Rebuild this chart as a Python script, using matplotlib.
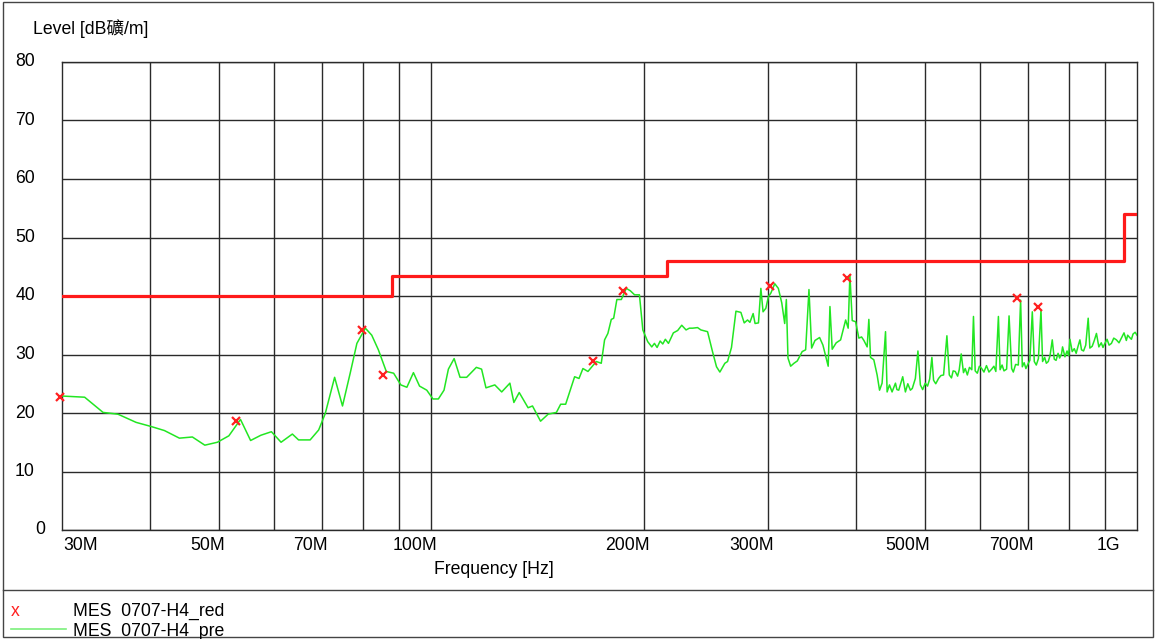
import matplotlib
matplotlib.use("Agg")
import matplotlib.pyplot as plt
from matplotlib.lines import Line2D
from matplotlib.patches import Rectangle

plt.rcParams['font.family'] = ['Liberation Sans', 'Noto Sans CJK SC']
plt.rcParams['font.size'] = 12.7

# ========== data (MHz / dB) ==========
# 30M ~ 440M
pre_freq_lo = [30.0, 32.3, 34.3, 36.0, 38.2, 40.1, 41.9, 44.0, 45.9, 47.8, 49.8, 51.7, 53.7, 55.5, 57.4,
               59.4, 61.3, 63.6, 64.9, 67.4, 69.3, 70.8, 73.0, 74.9, 76.8, 78.5, 80.7, 82.4, 84.2, 86.4,
               88.5, 90.6, 92.4, 94.4, 96.3, 98.6, 100.6, 102.4, 104.3, 105.8, 107.8, 109.9, 112.3, 115.9,
               117.9, 119.6, 123.1, 125.9, 129.3, 131.0, 133.3, 137.2, 139.2, 142.9, 146.5, 150.5, 152.6,
               155.1, 159.7, 162.0, 164.1, 166.8, 171.4, 174.2, 176.1, 178.0, 180.0, 181.4, 183.3, 186.0,
               189.0, 191.5, 194.2, 197.3, 199.5, 202.7, 205.4, 207.2, 209.0, 211.1, 212.9, 214.7, 216.9,
               220.4, 223.5, 226.5, 229.7, 232.2, 234.7, 238.5, 241.1, 246.4, 250.4, 253.7, 256.5, 260.7,
               263.0, 266.4, 270.3, 274.7, 277.7, 280.7, 282.9, 285.9, 287.7, 290.9, 293.2, 295.3, 298.0,
               300.5, 302.9, 306.8, 310.4, 313.9, 316.9, 318.6, 320.3, 323.1, 326.6, 330.2, 335.5, 339.3,
               343.0, 346.0, 349.8, 355.1, 359.0, 365.2, 367.3, 370.0, 374.9, 380.3, 386.6, 389.8, 392.0,
               395.0, 399.4, 403.6, 407.2, 410.3, 414.7, 417.0, 419.3, 423.8, 428.4, 431.8, 435.4]
pre_level_lo = [22.9, 22.7, 20.1, 19.8, 18.4, 17.7, 17.0, 15.7, 15.9, 14.5, 15.0, 16.1, 18.9, 15.3, 16.2,
                16.8, 15.0, 16.4, 15.4, 15.4, 17.1, 19.9, 26.1, 21.2, 26.8, 31.9, 34.5, 33.3, 30.8, 27.1,
                26.8, 24.8, 24.4, 26.9, 24.6, 23.9, 22.4, 22.4, 23.9, 27.5, 29.3, 26.1, 26.1, 27.8,
                27.5, 24.3, 24.8, 23.6, 25.1, 21.8, 23.5, 20.9, 21.2, 18.6, 19.8, 20.1, 21.5,
                21.5, 26.2, 25.9, 27.6, 27.1, 28.8, 28.5, 32.5, 33.6, 36.0, 36.2, 39.4, 39.4,
                41.3, 40.9, 40.2, 40.2, 34.2, 32.2, 31.3, 31.9, 31.2, 32.3, 31.8, 32.6, 31.9,
                33.7, 34.1, 35.0, 34.2, 34.5, 34.5, 34.6, 34.2, 33.9, 30.5, 27.9, 27.0, 28.5,
                28.8, 31.2, 37.4, 37.2, 35.4, 35.9, 35.5, 37.0, 35.3, 35.4, 41.3, 37.3, 37.9,
                39.9, 40.5, 42.1, 41.3, 38.8, 35.3, 39.4, 29.4, 28.0, 28.5, 28.9, 30.5, 30.8,
                41.1, 31.1, 32.4, 32.9, 31.6, 28.0, 38.2, 30.9, 32.0, 32.5, 35.9, 34.5, 43.6,
                35.8, 35.6, 32.8, 33.0, 32.4, 31.3, 36.0, 29.5, 29.1, 26.5, 23.9, 25.1]
# 440M ~ 1G
pre_freq_hi = [440.3, 442.6, 446.0, 449.8, 454.8, 457.0, 459.7, 465.7, 469.8, 473.5, 477.5, 480.5,
               485.3, 489.4, 493.3, 497.0, 501.2, 505.0, 508.5, 512.2, 515.0, 518.7, 523.4, 527.5,
               532.1, 537.9, 542.1, 546.0, 549.0, 552.7, 557.0, 560.0, 563.6, 567.8, 571.0, 575.0,
               579.0, 583.4, 586.6, 589.9, 594.0, 598.0, 602.6, 607.0, 612.0, 617.0, 622.5, 627.0,
               631.0, 636.3, 639.8, 644.0, 648.0, 653.6, 658.8, 664.4, 668.0, 673.0, 679.0, 684.1,
               687.9, 692.0, 696.0, 701.5, 705.0, 710.7, 715.3, 720.0, 725.0, 731.1, 734.9, 740.0,
               744.0, 748.7, 753.0, 758.5, 763.5, 768.0, 773.0, 777.0, 781.8, 784.4, 790.5, 796.0,
               800.0, 803.5, 809.5, 815.0, 820.0, 825.0, 830.1, 834.4, 840.0, 846.0, 852.8, 857.5,
               864.0, 870.0, 876.1, 883.0, 890.0, 895.0, 900.5, 907.0, 913.0, 920.0, 927.0, 935.1,
               943.0, 950.1, 958.5, 965.8, 970.0, 976.5, 982.0, 987.2, 994.0, 1000.0]
pre_level_hi = [33.9, 23.6, 24.8, 23.6, 25.1, 24.0, 23.9, 26.2, 23.6, 25.0, 23.9, 24.2,
                25.9, 30.6, 24.8, 24.0, 25.1, 24.6, 25.8, 29.5, 25.6, 25.0, 25.9, 26.4,
                26.5, 33.2, 26.5, 26.0, 27.2, 27.1, 26.3, 27.4, 30.1, 26.9, 27.6, 26.5,
                27.8, 27.4, 36.5, 27.2, 26.8, 28.0, 27.6, 27.0, 28.1, 27.0, 27.5, 28.0,
                27.1, 36.5, 27.4, 28.2, 27.2, 27.5, 36.6, 27.6, 27.0, 28.3, 28.2, 39.3,
                27.9, 28.6, 27.6, 28.5, 29.0, 37.3, 28.8, 28.2, 29.3, 37.6, 28.8, 29.5,
                28.5, 28.8, 29.8, 32.5, 29.2, 29.0, 30.2, 29.4, 30.1, 31.3, 29.6, 30.6,
                29.8, 32.6, 30.5, 31.0, 30.2, 31.4, 32.5, 30.8, 30.6, 31.6, 36.2, 31.1,
                31.4, 32.4, 33.6, 31.3, 32.0, 31.2, 31.9, 32.6, 31.6, 31.9, 32.8, 32.5,
                32.0, 32.8, 33.7, 32.4, 33.3, 32.9, 32.6, 33.5, 33.8, 33.3]

red_freq = [29.8, 53.0, 79.8, 85.6, 169.5, 186.9, 302.1, 387.7, 676.8, 724.7]
red_level = [22.7, 18.7, 34.2, 26.5, 28.9, 40.9, 41.7, 43.0, 39.6, 38.1]

limit_edges = [30, 88, 216, 960, 1000]
limit_levels = [40, 43.5, 46, 54, 54]

grid_freqs = [40, 50, 60, 70, 80, 90, 100, 200, 300, 400, 500, 600, 700, 800, 900]
y_ticks = [0, 10, 20, 30, 40, 50, 60, 70, 80]
x_labels = {30: "30M", 50: "50M", 70: "70M", 100: "100M", 200: "200M",
            300: "300M", 500: "500M", 700: "700M", 1000: "1G"}

pre_freq = pre_freq_lo + pre_freq_hi
pre_level = pre_level_lo + pre_level_hi

W, H = 1155, 639
fig = plt.figure(figsize=(W / 100, H / 100), dpi=100)
ax = fig.add_axes([62 / W, 109 / H, 1075 / W, 468 / H])

ax.set_xscale('log')
ax.set_xlim(30, 1000)
ax.set_ylim(0, 80)

# 网格
ax.set_xticks(grid_freqs)
ax.set_xticks([], minor=True)
ax.set_yticks(y_ticks)
ax.tick_params(length=0, labelbottom=False, labelleft=False)
ax.grid(True, color='#2a2a2a', lw=1)
for s in ax.spines.values():
    s.set_color('#2a2a2a')
    s.set_linewidth(1)

# 曲线
ax.plot(pre_freq, pre_level, color='#22e622', lw=1.1, zorder=3)
ax.step(limit_edges, limit_levels, where='post', color='#ff1a1a', lw=2.3, zorder=4)
ax.plot(red_freq, red_level, 'x', color='#ff2020', ms=6, mew=1.6, clip_on=False, zorder=5)

# 刻度文字
for v in y_ticks:
    dx = -17 if v == 0 else -27
    ax.annotate(str(v), xy=(0, v), xycoords=('axes fraction', 'data'),
                xytext=(dx, 0), textcoords='offset pixels', ha='right', va='center')
for f, lab in x_labels.items():
    if f == 30:
        ha, dx = 'left', 1
    elif f == 1000:
        ha, dx = 'right', -17
    else:
        ha, dx = 'right', 6
    ax.annotate(lab, xy=(f, 0), xycoords=('data', 'axes fraction'),
                xytext=(dx, -16), textcoords='offset pixels', ha=ha, va='center')

fig.text(33 / W, 1 - 29 / H, "Level [dB礦/m]", ha='left', va='center')
fig.text(494 / W, 1 - 570 / H, "Frequency [Hz]", ha='center', va='center')

# 图例区
fig.add_artist(Line2D([3 / W, 1153 / W], [1 - 590 / H] * 2, transform=fig.transFigure,
                      color='#444444', lw=1))
fig.text(11 / W, 1 - 611 / H, "x", color='#ff2020', ha='left', va='center')
fig.text(73 / W, 1 - 611 / H, "MES  0707-H4_red", ha='left', va='center')
fig.add_artist(Line2D([11 / W, 66 / W], [1 - 629 / H] * 2, transform=fig.transFigure,
                      color='#7cf07c', lw=1.2))
fig.text(73 / W, 1 - 636 / H, "MES  0707-H4_pre", ha='left', va='baseline')

# 外框
fig.add_artist(Rectangle((3 / W, 2 / H), 1150 / W, 635 / H, transform=fig.transFigure,
                         fill=False, edgecolor='#444444', lw=1))

fig.savefig("out.png", dpi=100)
